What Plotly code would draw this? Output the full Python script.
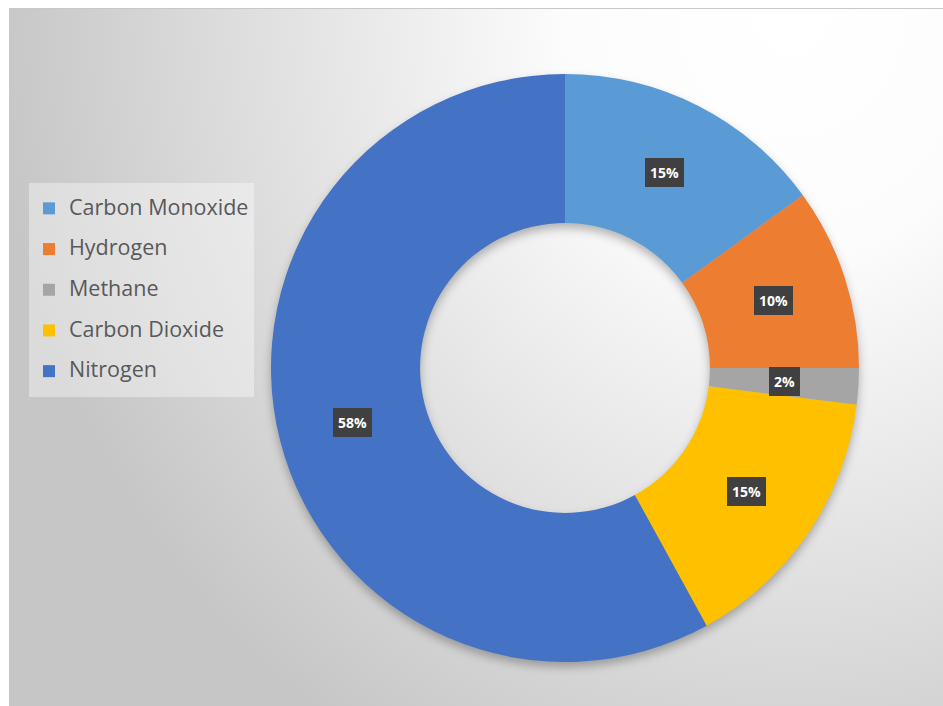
import base64
import math
import plotly.graph_objects as go

# ---- data ----
labels = ["Carbon Monoxide", "Hydrogen", "Methane", "Carbon Dioxide", "Nitrogen"]
values = [15, 10, 2, 15, 58]
colors = ["#5B9BD5", "#ED7D31", "#A5A5A5", "#FFC000", "#4472C4"]

# ---- geometry / style ----
W, H = 943, 706
CX, CY, R = 565, 368, 294          # pie centre / radius in px
HOLE = 0.493
dom_x = [(CX - R) / W, (CX + R) / W]
dom_y = [(H - CY - R) / H, (H - CY + R) / H]

# background: radial grey gradient + soft shadow under the ring
ri = R * HOLE
sy = CY + 5
ring = (f"M{CX-R},{sy} a{R},{R} 0 1,0 {2*R},0 a{R},{R} 0 1,0 {-2*R},0 Z "
        f"M{CX-ri},{sy} a{ri},{ri} 0 1,0 {2*ri},0 a{ri},{ri} 0 1,0 {-2*ri},0 Z")
svg = f'''<svg xmlns="http://www.w3.org/2000/svg" width="{W}" height="{H}" viewBox="0 0 {W} {H}">
<defs>
<radialGradient id="g" gradientUnits="userSpaceOnUse" cx="790" cy="15" r="800"
 gradientTransform="translate(790 15) scale(1 1.08) translate(-790 -15)">
<stop offset="0" stop-color="#ffffff"/>
<stop offset="0.28" stop-color="#fcfcfc"/>
<stop offset="0.55" stop-color="#e8e8e8"/>
<stop offset="0.75" stop-color="#d9d9d9"/>
<stop offset="1" stop-color="#c6c6c6"/>
</radialGradient>
<filter id="b" x="-20%" y="-20%" width="140%" height="140%"><feGaussianBlur stdDeviation="5"/></filter>
</defs>
<rect width="{W}" height="{H}" fill="#ffffff"/>
<rect x="9" y="8" width="{W-9}" height="{H-8}" fill="url(#g)"/>
<line x1="9" y1="8.5" x2="{W}" y2="8.5" stroke="#c8c8c8" stroke-width="1"/>
<path d="{ring}" fill="#000" fill-opacity="0.28" fill-rule="evenodd" filter="url(#b)"/>
</svg>'''
bg_src = "data:image/svg+xml;base64," + base64.b64encode(svg.encode()).decode()

legend_labels = [f'<span style="font-size:21.5px;baseline-shift:5px">{l}</span>' for l in labels]

fig = go.Figure(go.Pie(
    labels=legend_labels,
    values=values,
    marker=dict(colors=colors, line=dict(width=0)),
    hole=HOLE,
    sort=False,
    direction="clockwise",
    rotation=0,
    textinfo="none",
    hoverinfo="percent",
    domain=dict(x=dom_x, y=dom_y),
))

# data labels: dark boxes at the middle of each ring segment
total = sum(values)
cum = 0
ann = []
rmid = (1 + HOLE) / 2 * R
for v in values:
    th = 2 * math.pi * (cum + v / 2) / total
    cum += v
    px = CX + rmid * math.sin(th)
    py = CY - rmid * math.cos(th)
    ann.append(dict(
        x=px / W, y=1 - py / H, xref="paper", yref="paper",
        text=f"<b>{round(100 * v / total)}%</b>", showarrow=False,
        font=dict(family="Open Sans", size=14, color="#ffffff"),
        bgcolor="#404040", borderpad=5, borderwidth=0,
        xanchor="center", yanchor="middle",
    ))

fig.update_layout(
    width=W, height=H,
    margin=dict(l=0, r=0, t=0, b=0),
    paper_bgcolor="#ffffff",
    plot_bgcolor="rgba(0,0,0,0)",
    images=[dict(source=bg_src, xref="paper", yref="paper", x=0, y=1,
                 sizex=1, sizey=1, sizing="stretch", layer="below",
                 xanchor="left", yanchor="top")],
    annotations=ann,
    showlegend=True,
    legend=dict(
        x=29 / W, y=1 - 183 / H, xanchor="left", yanchor="top",
        font=dict(family="Open Sans", size=29, color="#595959"),
        bgcolor="rgba(255,255,255,0.38)", borderwidth=0,
        traceorder="normal",
    ),
)

fig.write_html("out.html")
